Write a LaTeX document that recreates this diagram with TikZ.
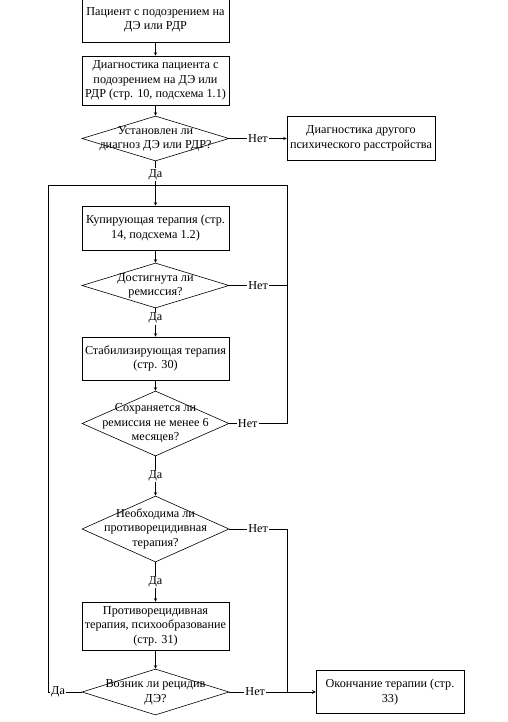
\documentclass[tikz,border=0pt]{standalone}
\usepackage{fontspec}
\setmainfont{Liberation Serif}
\usetikzlibrary{shapes.geometric,arrows}

% text inside a diamond may run over its edges
\newcommand{\qtext}[1]{\makebox[0pt]{\begin{tabular}{@{}c@{}}#1\end{tabular}}}

\begin{document}
\begin{tikzpicture}[
            node distance=60pt,
            font=\fontsize{12.2}{14.5}\selectfont,
            line width=0.6pt,
            process/.style={rectangle, draw=black, minimum width=147pt, minimum height=44pt, align=center, inner sep=2pt},
            decision/.style={diamond, draw=black, minimum width=147pt, minimum height=45pt, inner sep=0pt},
            arrow/.style={->,>=stealth},
            lbl/.style={fill=white, inner sep=1pt}
        ]
        \useasboundingbox (0,0) rectangle (507pt,-722pt);

        % Nodi
        \node (start) [process] at (155.5pt,-20pt) {Пациент с подозрением на\\ДЭ или РДР};
        \node (diag) [process, below of=start, yshift=-0.5pt, minimum height=49pt] {Диагностика пациента с\\подозрением на ДЭ или\\РДР (стр. 10, подсхема 1.1)};
        \node (d1) [decision, below of=diag, yshift=2pt] {\qtext{Установлен ли\\диагноз ДЭ или РДР?}};
        \node (other) [process, right of=d1, xshift=145.5pt, minimum width=148pt] {Диагностика другого\\психического расстройства};

        % Ramo ritorno
        \node (join) [coordinate, below of=d1, yshift=13.5pt] {};
        \node (loopR) [coordinate, right of=join, xshift=71.5pt] {};
        \node (loopL) [coordinate, left of=join, xshift=-47.5pt] {};

        \node (therapy) [process, below of=d1, yshift=-29.5pt] {Купирующая терапия (стр.\\14, подсхема 1.2)};
        \node (d2) [decision, below of=therapy, yshift=2.5pt] {\qtext{Достигнута ли\\ремиссия?}};
        \node (stab) [process, below of=d2, yshift=-13pt, minimum height=43pt] {Стабилизирующая терапия\\(стр. 30)};
        \node (d3) [decision, below of=stab, yshift=-5pt, minimum height=65pt] {\qtext{Сохраняется ли\\ремиссия не менее 6\\месяцев?}};
        \node (d4) [decision, below of=d3, yshift=-45.5pt, minimum height=66pt] {\qtext{Необходима ли\\противорецидивная\\терапия?}};
        \node (anti) [process, below of=d4, yshift=-37pt, minimum height=48pt] {Противорецидивная\\терапия, психообразование\\(стр. 31)};
        \node (d5) [decision, below of=anti, yshift=-6pt, minimum height=46pt] {\qtext{Возник ли рецидив\\ДЭ?}};
        \node (end) [process, right of=d5, xshift=174.5pt, minimum width=148pt, minimum height=43pt] {Окончание терапии (стр.\\33)};

        % Collegamenti
        \draw [arrow] (start) -- (diag);
        \draw [arrow] (diag) -- (d1);
        \draw [arrow] (d1) -- node[lbl] {Нет} (other);
        \draw [arrow] (d1) -- node[lbl, pos=0.3] {Да} (therapy);
        \draw [arrow] (therapy) -- (d2);
        \draw (d2) -- node[lbl] {Нет} (d2 -| loopR) |- (join);
        \draw [arrow] (d2) -- node[lbl, pos=0.35] {Да} (stab);
        \draw [arrow] (stab) -- (d3);
        \draw (d3) -- node[lbl, pos=0.32] {Нет} (d3 -| loopR) |- (join);
        \draw [arrow] (d3) -- node[lbl] {Да} (d4);
        \draw [arrow] (d4) -- node[lbl] {Нет} (d4 -| loopR) |- (end);
        \draw [arrow] (d4) -- node[lbl] {Да} (anti);
        \draw [arrow] (anti) -- (d5);
        \draw [arrow] (d5) -- node[lbl, pos=0.3] {Нет} (end);
        \draw (d5) -- node[lbl, pos=0.7] {Да} (d5 -| loopL) |- (join);

    \end{tikzpicture}
\end{document}
